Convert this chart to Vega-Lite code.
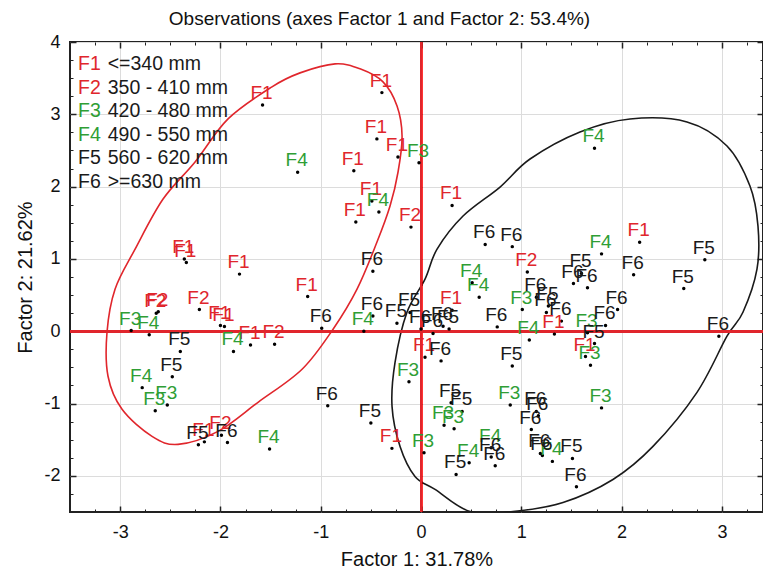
{
  "$schema": "https://vega.github.io/schema/vega-lite/v6.json",
  "width": 693,
  "height": 470,
  "autosize": "none",
  "padding": {"left": 70, "top": 42, "right": 0, "bottom": 61},
  "background": "white",
  "config": {
    "font": "Liberation Sans",
    "view": {"stroke": "#222", "strokeWidth": 2},
    "axis": {"labelFont": "Liberation Sans", "titleFont": "Liberation Sans", "labelColor": "#111", "titleColor": "#111", "titleFontWeight": "normal", "tickColor": "#222", "domain": false}
  },
  "title": {"text": "Observations (axes Factor 1 and Factor 2: 53.4%)", "fontSize": 19, "fontWeight": "normal", "font": "Liberation Sans", "anchor": "middle", "dx": -37, "offset": 4, "color": "#111"},
  "datasets": {
    "pts": [
      {"g": "F1", "x": -1.58, "y": 3.13}, {"g": "F1", "x": -0.39, "y": 3.30}, {"g": "F1", "x": -0.44, "y": 2.66},
      {"g": "F1", "x": -0.23, "y": 2.41}, {"g": "F1", "x": -0.67, "y": 2.22}, {"g": "F1", "x": -0.49, "y": 1.80},
      {"g": "F1", "x": -0.65, "y": 1.51}, {"g": "F1", "x": 0.31, "y": 1.74}, {"g": "F1", "x": -1.13, "y": 0.48},
      {"g": "F1", "x": -2.36, "y": 1.00}, {"g": "F1", "x": -2.34, "y": 0.95}, {"g": "F1", "x": -1.81, "y": 0.79},
      {"g": "F1", "x": -2.00, "y": 0.08}, {"g": "F1", "x": -1.96, "y": 0.065}, {"g": "F1", "x": -1.70, "y": -0.19},
      {"g": "F1", "x": -2.16, "y": -1.53}, {"g": "F1", "x": 0.04, "y": -0.36}, {"g": "F1", "x": -0.29, "y": -1.62},
      {"g": "F1", "x": 0.31, "y": 0.29}, {"g": "F1", "x": 1.33, "y": -0.04}, {"g": "F1", "x": 1.64, "y": -0.35},
      {"g": "F1", "x": 2.18, "y": 1.23},
      {"g": "F2", "x": -0.10, "y": 1.44}, {"g": "F2", "x": -2.64, "y": 0.25}, {"g": "F2", "x": -2.62, "y": 0.27},
      {"g": "F2", "x": -2.21, "y": 0.30}, {"g": "F2", "x": -1.46, "y": -0.18}, {"g": "F2", "x": -1.99, "y": -1.44},
      {"g": "F2", "x": 1.06, "y": 0.82},
      {"g": "F3", "x": -0.02, "y": 2.33}, {"g": "F3", "x": -2.89, "y": 0.01}, {"g": "F3", "x": -2.53, "y": -1.02},
      {"g": "F3", "x": -2.65, "y": -1.10}, {"g": "F3", "x": -0.12, "y": -0.70}, {"g": "F3", "x": 0.03, "y": -1.68},
      {"g": "F3", "x": 0.23, "y": -1.30}, {"g": "F3", "x": 0.33, "y": -1.35}, {"g": "F3", "x": 0.89, "y": -1.02},
      {"g": "F3", "x": 1.80, "y": -1.06}, {"g": "F3", "x": 1.01, "y": 0.30}, {"g": "F3", "x": 1.66, "y": -0.02},
      {"g": "F3", "x": 1.69, "y": -0.47},
      {"g": "F4", "x": -1.23, "y": 2.20}, {"g": "F4", "x": -0.42, "y": 1.65}, {"g": "F4", "x": 0.51, "y": 0.67},
      {"g": "F4", "x": 0.58, "y": 0.47}, {"g": "F4", "x": 1.73, "y": 2.53}, {"g": "F4", "x": 1.80, "y": 1.07},
      {"g": "F4", "x": -2.71, "y": -0.05}, {"g": "F4", "x": -1.87, "y": -0.28}, {"g": "F4", "x": -2.78, "y": -0.78},
      {"g": "F4", "x": -1.51, "y": -1.63}, {"g": "F4", "x": -0.57, "y": 0.00}, {"g": "F4", "x": 1.08, "y": -0.12},
      {"g": "F4", "x": 0.70, "y": -1.61}, {"g": "F4", "x": 0.48, "y": -1.82}, {"g": "F4", "x": 1.31, "y": -1.80},
      {"g": "F5", "x": -2.40, "y": -0.28}, {"g": "F5", "x": -2.48, "y": -0.63}, {"g": "F5", "x": -2.22, "y": -1.57},
      {"g": "F5", "x": -0.24, "y": 0.11}, {"g": "F5", "x": -0.11, "y": 0.26}, {"g": "F5", "x": 0.28, "y": 0.03},
      {"g": "F5", "x": -0.50, "y": -1.27}, {"g": "F5", "x": 0.30, "y": -0.99}, {"g": "F5", "x": 0.41, "y": -1.11},
      {"g": "F5", "x": 0.35, "y": -1.98}, {"g": "F5", "x": 0.91, "y": -0.48}, {"g": "F5", "x": 1.51, "y": -1.76},
      {"g": "F5", "x": 1.60, "y": 0.80}, {"g": "F5", "x": 1.27, "y": 0.35}, {"g": "F5", "x": 1.73, "y": -0.17},
      {"g": "F5", "x": 2.83, "y": 0.99}, {"g": "F5", "x": 2.62, "y": 0.59},
      {"g": "F6", "x": -1.93, "y": -1.54}, {"g": "F6", "x": -0.99, "y": 0.04}, {"g": "F6", "x": -0.48, "y": 0.83},
      {"g": "F6", "x": 0.64, "y": 1.20}, {"g": "F6", "x": 0.91, "y": 1.17}, {"g": "F6", "x": -0.48, "y": 0.21},
      {"g": "F6", "x": 0.12, "y": -0.03}, {"g": "F6", "x": 0.22, "y": 0.07}, {"g": "F6", "x": 0.00, "y": 0.03},
      {"g": "F6", "x": 0.20, "y": -0.41}, {"g": "F6", "x": -0.93, "y": -1.03}, {"g": "F6", "x": 0.70, "y": -1.74},
      {"g": "F6", "x": 0.74, "y": -1.86}, {"g": "F6", "x": 1.15, "y": -1.11}, {"g": "F6", "x": 1.17, "y": -1.17},
      {"g": "F6", "x": 1.10, "y": -1.36}, {"g": "F6", "x": 1.19, "y": -1.69}, {"g": "F6", "x": 1.21, "y": -1.72},
      {"g": "F6", "x": 1.55, "y": -2.15}, {"g": "F6", "x": 0.76, "y": 0.06}, {"g": "F6", "x": 1.52, "y": 0.66},
      {"g": "F6", "x": 1.66, "y": 0.60}, {"g": "F6", "x": 2.12, "y": 0.78}, {"g": "F6", "x": 1.96, "y": 0.30},
      {"g": "F6", "x": 1.84, "y": 0.08}, {"g": "F6", "x": 1.15, "y": 0.47}, {"g": "F6", "x": 1.25, "y": 0.26},
      {"g": "F6", "x": 1.40, "y": 0.14}, {"g": "F6", "x": 2.97, "y": -0.07}
    ],
    "ellR": [
      {"i": 1, "x": -0.857, "y": 3.698}, {"i": 2, "x": -0.608, "y": 3.629}, {"i": 3, "x": -0.379, "y": 3.449},
      {"i": 4, "x": -0.239, "y": 3.116}, {"i": 5, "x": -0.189, "y": 2.701}, {"i": 6, "x": -0.229, "y": 2.202},
      {"i": 7, "x": -0.309, "y": 1.731}, {"i": 8, "x": -0.439, "y": 1.233}, {"i": 9, "x": -0.638, "y": 0.582},
      {"i": 10, "x": -0.877, "y": 0.028}, {"i": 11, "x": -1.186, "y": -0.526}, {"i": 12, "x": -1.625, "y": -0.983},
      {"i": 13, "x": -2.024, "y": -1.385}, {"i": 14, "x": -2.423, "y": -1.565}, {"i": 15, "x": -2.682, "y": -1.454},
      {"i": 16, "x": -2.981, "y": -1.080}, {"i": 17, "x": -3.121, "y": -0.623}, {"i": 18, "x": -3.131, "y": -0.014},
      {"i": 19, "x": -3.051, "y": 0.582}, {"i": 20, "x": -2.851, "y": 1.136}, {"i": 21, "x": -2.572, "y": 1.828},
      {"i": 22, "x": -2.253, "y": 2.341}, {"i": 23, "x": -1.924, "y": 2.936}, {"i": 24, "x": -1.486, "y": 3.380},
      {"i": 25, "x": -1.206, "y": 3.573}
    ],
    "ellB": [
      {"i": 1, "x": 2.084, "y": 2.936}, {"i": 2, "x": 2.652, "y": 2.895}, {"i": 3, "x": 3.051, "y": 2.562},
      {"i": 4, "x": 3.280, "y": 2.008}, {"i": 5, "x": 3.360, "y": 1.454}, {"i": 6, "x": 3.350, "y": 0.859},
      {"i": 7, "x": 3.210, "y": 0.263}, {"i": 8, "x": 3.051, "y": -0.069}, {"i": 9, "x": 2.752, "y": -0.845},
      {"i": 10, "x": 2.313, "y": -1.593}, {"i": 11, "x": 1.914, "y": -2.050}, {"i": 12, "x": 1.416, "y": -2.368},
      {"i": 13, "x": 0.917, "y": -2.493}, {"i": 14, "x": 0.489, "y": -2.493}, {"i": 15, "x": 0.140, "y": -2.188},
      {"i": 16, "x": -0.060, "y": -2.008}, {"i": 17, "x": -0.209, "y": -1.593}, {"i": 18, "x": -0.289, "y": -1.039},
      {"i": 19, "x": -0.259, "y": -0.429}, {"i": 20, "x": -0.140, "y": 0.263}, {"i": 21, "x": 0.040, "y": 0.720},
      {"i": 22, "x": 0.160, "y": 1.136}, {"i": 23, "x": 0.419, "y": 1.593}, {"i": 24, "x": 0.788, "y": 1.994},
      {"i": 25, "x": 1.087, "y": 2.382}, {"i": 26, "x": 1.585, "y": 2.756}
    ],
    "leg": [
      {"code": "F1", "desc": "<=340 mm", "rank": 1},
      {"code": "F2", "desc": "350 - 410 mm", "rank": 2},
      {"code": "F3", "desc": "420 - 480 mm", "rank": 3},
      {"code": "F4", "desc": "490 - 550 mm", "rank": 4},
      {"code": "F5", "desc": "560 - 620 mm", "rank": 5},
      {"code": "F6", "desc": ">=630 mm", "rank": 6}
    ]
  },
  "layer": [
    {
      "layer": [
        {
          "data": {"name": "ellR"},
          "mark": {"type": "line", "interpolate": "cardinal-closed", "color": "#e0262c", "strokeWidth": 1.6, "clip": true},
          "encoding": {
            "x": {"field": "x", "type": "quantitative", "scale": {"domain": [-3.5, 3.41], "nice": false, "zero": false},
                  "axis": {"orient": "bottom", "values": [-3.5, -3.25, -2.75, -2.5, -2.25, -1.75, -1.5, -1.25, -0.75, -0.5, -0.25, 0.25, 0.5, 0.75, 1.25, 1.5, 1.75, 2.25, 2.5, 2.75, 3.25], "labels": false, "grid": false, "tickSize": -3, "title": null}},
            "y": {"field": "y", "type": "quantitative", "scale": {"domain": [-2.5, 4], "nice": false, "zero": false},
                  "axis": {"orient": "left", "values": [-2.25, -1.75, -1.5, -1.25, -0.75, -0.5, -0.25, 0.25, 0.5, 0.75, 1.25, 1.5, 1.75, 2.25, 2.5, 2.75, 3.25, 3.5, 3.75], "labels": false, "grid": false, "tickSize": -3, "title": null}},
            "order": {"field": "i", "type": "quantitative"}
          }
        },
        {
          "data": {"name": "ellB"},
          "mark": {"type": "line", "interpolate": "cardinal-closed", "color": "#1a1a1a", "strokeWidth": 1.6, "clip": true},
          "encoding": {
            "x": {"field": "x", "type": "quantitative",
                  "axis": {"orient": "top", "values": [-3.5, -3.25, -2.75, -2.5, -2.25, -1.75, -1.5, -1.25, -0.75, -0.5, -0.25, 0.25, 0.5, 0.75, 1.25, 1.5, 1.75, 2.25, 2.5, 2.75, 3.25], "labels": false, "grid": false, "tickSize": -3, "title": null}},
            "y": {"field": "y", "type": "quantitative",
                  "axis": {"orient": "right", "values": [-2.25, -1.75, -1.5, -1.25, -0.75, -0.5, -0.25, 0.25, 0.5, 0.75, 1.25, 1.5, 1.75, 2.25, 2.5, 2.75, 3.25, 3.5, 3.75], "labels": false, "grid": false, "tickSize": -3, "title": null}},
            "order": {"field": "i", "type": "quantitative"}
          }
        },
        {
          "data": {"name": "pts"},
          "mark": {"type": "rule", "color": "#e0262c", "strokeWidth": 2},
          "encoding": {"x": {"datum": 0, "type": "quantitative", "axis": null}}
        },
        {
          "data": {"name": "pts"},
          "mark": {"type": "rule", "color": "#e0262c", "strokeWidth": 2},
          "encoding": {"y": {"datum": 0, "type": "quantitative", "axis": null}}
        },
        {
          "data": {"name": "pts"},
          "mark": {"type": "point", "filled": true, "color": "#000", "size": 12, "opacity": 1},
          "encoding": {
            "x": {"field": "x", "type": "quantitative",
                  "axis": {"orient": "bottom", "title": "Factor 1: 31.78%", "values": [-3, -2, -1, 0, 1, 2, 3], "labelExpr": "'' + datum.value", "grid": true, "gridColor": "#dcdcdc", "gridWidth": 1, "tickSize": -6, "tickWidth": 1.5, "labelPadding": 17, "labelFontSize": 18, "titleFontSize": 20, "titlePadding": 8, "labelFlush": false}},
            "y": {"field": "y", "type": "quantitative",
                  "axis": {"orient": "left", "title": "Factor 2: 21.62%", "values": [-2, -1, 0, 1, 2, 3, 4], "labelExpr": "'' + datum.value", "grid": true, "gridColor": "#dcdcdc", "gridWidth": 1, "tickSize": -6, "tickWidth": 1.5, "labelPadding": 16, "labelFontSize": 18, "titleFontSize": 20, "titlePadding": 8, "labelFlush": false}}
          }
        },
        {
          "data": {"name": "pts"},
          "mark": {"type": "text", "font": "Liberation Sans", "fontSize": 19, "align": "center", "baseline": "middle", "dy": -12, "dx": -1},
          "encoding": {
            "x": {"field": "x", "type": "quantitative",
                  "axis": {"orient": "top", "values": [-3, -2, -1, 0, 1, 2, 3], "labels": false, "grid": false, "tickSize": -6, "tickWidth": 1.5, "title": null}},
            "y": {"field": "y", "type": "quantitative",
                  "axis": {"orient": "right", "values": [-2, -1, 0, 1, 2, 3, 4], "labels": false, "grid": false, "tickSize": -6, "tickWidth": 1.5, "title": null}},
            "text": {"field": "g"},
            "color": {"field": "g", "type": "nominal", "scale": {"domain": ["F1", "F2", "F3", "F4", "F5", "F6"], "range": ["#e0262c", "#e0262c", "#2f9e35", "#2f9e35", "#1a1a1a", "#1a1a1a"]}, "legend": null}
          }
        }
      ],
      "resolve": {"axis": {"x": "independent", "y": "independent"}}
    },
    {
      "data": {"name": "leg"},
      "layer": [
        {
          "mark": {"type": "text", "font": "Liberation Sans", "fontSize": 19.5, "align": "left", "baseline": "middle"},
          "encoding": {
            "x": {"datum": -3.42, "type": "quantitative", "axis": null},
            "y": {"field": "rank", "type": "quantitative", "scale": {"domain": [0.07, 19.987], "reverse": true, "nice": false, "zero": false}, "axis": null},
            "text": {"field": "code"},
            "color": {"field": "code", "type": "nominal", "legend": null}
          }
        },
        {
          "mark": {"type": "text", "font": "Liberation Sans", "fontSize": 19.5, "align": "left", "baseline": "middle", "color": "#1a1a1a"},
          "encoding": {
            "x": {"datum": -3.124, "type": "quantitative", "axis": null},
            "y": {"field": "rank", "type": "quantitative", "axis": null},
            "text": {"field": "desc"}
          }
        }
      ]
    }
  ],
  "resolve": {"scale": {"y": "independent"}, "axis": {"x": "independent", "y": "independent"}}
}
